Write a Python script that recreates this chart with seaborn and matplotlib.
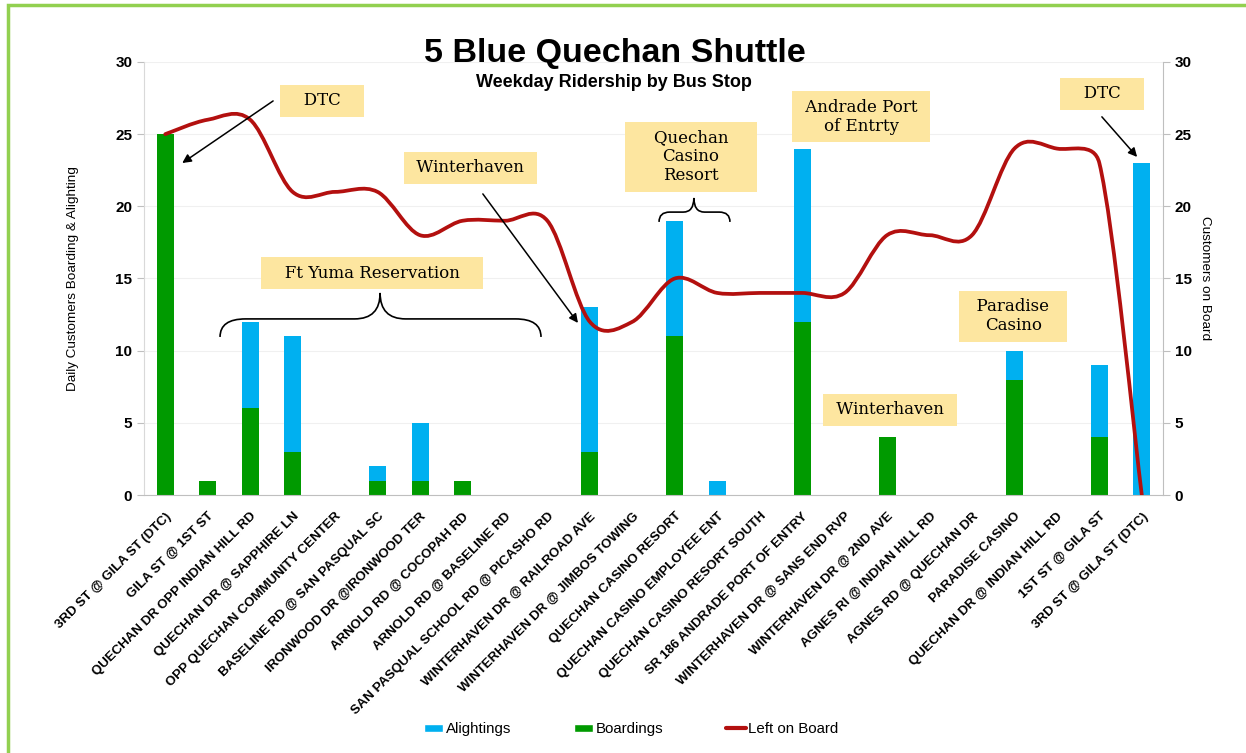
import numpy as np
import pandas as pd
import matplotlib
matplotlib.use("Agg")
import matplotlib.pyplot as plt
from matplotlib.path import Path
from matplotlib.patches import PathPatch, Patch, Rectangle
from matplotlib.lines import Line2D
import seaborn as sns

# data
stops = ["3RD ST @ GILA ST (DTC)", "GILA ST @ 1ST ST", "QUECHAN DR OPP INDIAN HILL RD",
         "QUECHAN DR @ SAPPHIRE LN", "OPP QUECHAN COMMUNITY CENTER", "BASELINE RD @ SAN PASQUAL SC",
         "IRONWOOD DR @IRONWOOD TER", "ARNOLD RD @ COCOPAH RD", "ARNOLD RD @ BASELINE RD",
         "SAN PASQUAL SCHOOL RD @ PICASHO RD", "WINTERHAVEN DR @ RAILROAD AVE",
         "WINTERHAVEN DR @ JIMBOS TOWING", "QUECHAN CASINO RESORT", "QUECHAN CASINO EMPLOYEE ENT",
         "QUECHAN CASINO RESORT SOUTH", "SR 186 ANDRADE PORT OF ENTRY", "WINTERHAVEN DR @ SANS END RVP",
         "WINTERHAVEN DR @ 2ND AVE", "AGNES RI @ INDIAN HILL RD", "AGNES RD @ QUECHAN DR",
         "PARADISE CASINO", "QUECHAN DR @ INDIAN HILL RD", "1ST ST @ GILA ST", "3RD ST @ GILA ST (DTC)"]
boardings = [25, 1, 6, 3, 0, 1, 1, 1, 0, 0, 3, 0, 11, 0, 0, 12, 0, 4, 0, 0, 8, 0, 4, 0]
alightings = [0, 0, 6, 8, 0, 1, 4, 0, 0, 0, 10, 0, 8, 1, 0, 12, 0, 0, 0, 0, 2, 0, 5, 23]
left_on_board = [25, 26, 26, 21, 21, 21, 18, 19, 19, 19, 12, 12, 15, 14, 14, 14, 14, 18, 18, 18, 24, 24, 23, 0]

BLUE = "#00b0f0"
GREEN = "#009a00"
RED = "#b3100f"
YELLOW = "#fde6a0"

df = pd.DataFrame({"pos": range(len(stops)), "stop": stops,
                   "Boardings": boardings, "Alightings": alightings})
df["total"] = df["Boardings"] + df["Alightings"]

sns.set_style("white")
plt.rcParams["font.family"] = ["Liberation Sans", "DejaVu Sans"]
plt.rcParams["text.color"] = "black"
plt.rcParams["axes.labelcolor"] = "black"
plt.rcParams["xtick.color"] = "black"
plt.rcParams["ytick.color"] = "black"

fig, ax = plt.subplots(figsize=(12.46, 7.53), dpi=100)
fig.subplots_adjust(left=0.1156, right=0.9334, top=0.9177, bottom=0.3426)

# stacked bars: total (blue) behind, boardings (green) in front
sns.barplot(data=df, x="pos", y="total", color=BLUE, saturation=1, width=0.4,
            errorbar=None, linewidth=0, ax=ax)
sns.barplot(data=df, x="pos", y="Boardings", color=GREEN, saturation=1, width=0.4,
            errorbar=None, linewidth=0, ax=ax)

ax.set_xlim(-0.5, len(stops) - 0.5)
ax.set_ylim(0, 30)
ax.set_yticks(range(0, 31, 5))
ax.set_xticks(range(len(stops)))
ax.set_xticklabels(stops, rotation=45, ha="right", rotation_mode="anchor",
                   fontsize=9.5, fontweight="bold")
ax.set_xticks(np.arange(-0.5, len(stops)), minor=True)
ax.tick_params(axis="x", which="major", length=0, pad=11)
ax.tick_params(axis="x", which="minor", length=5, color="#bfbfbf", width=1)
ax.tick_params(axis="y", length=5, color="#bfbfbf", labelsize=11)
for t in ax.get_yticklabels():
    t.set_fontweight("bold")
ax.set_xlabel("")
ax.set_ylabel("Daily Customers Boarding & Alighting", fontsize=9.7)
ax.yaxis.set_label_coords(-0.0638, 0.5)
ax.yaxis.grid(True, color="#f0f0f0", lw=0.8)
ax.set_axisbelow(True)
ax.spines["top"].set_visible(False)
ax.spines["right"].set_visible(False)
ax.spines["left"].set_color("#d9d9d9")
ax.spines["bottom"].set_color("#bfbfbf")

# secondary axis: left on board
ax2 = ax.twinx()
ax2.set_ylim(0, 30)
ax2.set_yticks(range(0, 31, 5))
ax2.tick_params(axis="y", length=5, color="#bfbfbf", labelsize=11)
for t in ax2.get_yticklabels():
    t.set_fontweight("bold")
ax2.set_ylabel("Customers on Board", fontsize=9.7, rotation=270)
ax2.yaxis.set_label_coords(1.047, 0.5)
for s in ["top", "left", "bottom"]:
    ax2.spines[s].set_visible(False)
ax2.spines["right"].set_color("#bfbfbf")

# Excel-style smoothed line: Bezier handles worked out in screen space,
# each handle at most half as long as its segment
pts = ax2.transData.transform(np.column_stack([df["pos"], left_on_board]).astype(float))
ext = np.vstack([pts[0], pts, pts[-1]])
verts = [pts[0]]
codes = [Path.MOVETO]
for i in range(len(pts) - 1):
    p0, p1, p2, p3 = ext[i], ext[i + 1], ext[i + 2], ext[i + 3]
    seg = np.hypot(*(p2 - p1))
    h1 = (p2 - p0) / 6
    h2 = (p3 - p1) / 6
    if np.hypot(*h1) > seg / 2:
        h1 = h1 * (seg / 2) / np.hypot(*h1)
    if np.hypot(*h2) > seg / 2:
        h2 = h2 * (seg / 2) / np.hypot(*h2)
    verts += [p1 + h1, p2 - h2, p2]
    codes += [Path.CURVE4] * 3
verts = ax2.transData.inverted().transform(np.array(verts))
ax2.add_patch(PathPatch(Path(verts, codes), fill=False, edgecolor=RED, lw=2.7,
                        capstyle="round", joinstyle="round"))


def note(x, y, text):
    ax2.text(x, y, text, ha="center", va="center", family="DejaVu Serif", fontsize=12,
             linespacing=1.15, zorder=5,
             bbox=dict(boxstyle="square,pad=0.45", fc=YELLOW, ec="none"))


def arrow(x0, y0, x1, y1):
    ax2.annotate("", xy=(x1, y1), xytext=(x0, y0), zorder=6,
                 arrowprops=dict(arrowstyle="-|>", color="black", lw=1.1,
                                 mutation_scale=13, shrinkA=0, shrinkB=0))


def brace(x1, x2, xt, y_end, y_mid, y_tip, d):
    v = [(x1, y_end), (x1, y_mid), (x1 + d, y_mid), (xt - d, y_mid), (xt, y_mid), (xt, y_tip),
         (xt, y_mid), (xt + d, y_mid), (x2 - d, y_mid), (x2, y_mid), (x2, y_end)]
    c = [Path.MOVETO, Path.CURVE3, Path.CURVE3, Path.LINETO, Path.CURVE3, Path.CURVE3,
         Path.CURVE3, Path.CURVE3, Path.LINETO, Path.CURVE3, Path.CURVE3]
    ax2.add_patch(PathPatch(Path(v, c), fill=False, edgecolor="black", lw=1.2))


note(3.69, 27.3, "   DTC   ")
arrow(2.54, 27.3, 0.4, 23.0)
note(7.18, 22.66, " Winterhaven ")
arrow(7.48, 20.86, 9.72, 11.92)
note(4.87, 15.38, "   Ft Yuma Reservation   ")
brace(1.29, 8.85, 5.06, 10.95, 12.2, 14.0, 0.6)
note(12.38, 23.42, "    Quechan    \nCasino\nResort")
brace(11.63, 13.3, 12.45, 18.92, 19.6, 20.58, 0.25)
note(16.39, 26.2, " Andrade Port \nof Entrty")
note(22.06, 27.79, "   DTC   ")
arrow(22.06, 26.2, 22.89, 23.42)
note(17.07, 5.89, " Winterhaven ")
note(19.97, 12.4, "  Paradise  \nCasino")

fig.text(0.4936, 0.9296, "5 Blue Quechan Shuttle", ha="center", va="center",
         fontsize=24.5, fontweight="bold")
fig.text(0.4928, 0.8898, "Weekday Ridership by Bus Stop", ha="center", va="center",
         fontsize=13, fontweight="bold")

handles = [Patch(fc=BLUE), Patch(fc=GREEN), Line2D([], [], color=RED, lw=3)]
fig.legend(handles, ["Alightings", "Boardings", "Left on Board"], loc="center",
           bbox_to_anchor=(631 / 1246, 1 - 729 / 753), ncol=3, frameon=False,
           fontsize=10.8, handlelength=1.3, handleheight=0.45, handletextpad=0.15,
           columnspacing=4.2)

# green frame around the picture
fig.add_artist(Rectangle((8 / 1246, -0.02), 1.02, 1.02 - 5 / 753, transform=fig.transFigure,
                         fill=False, ec="#92d050", lw=2.5))

fig.savefig("out.png", dpi=100)
